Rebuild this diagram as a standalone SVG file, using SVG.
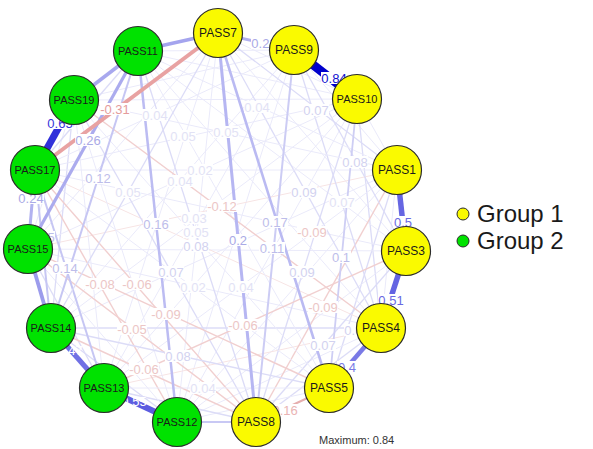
<svg xmlns="http://www.w3.org/2000/svg" width="593" height="449" viewBox="0 0 593 449">
<style>
line{stroke-linecap:butt;fill:none}
.s0{stroke:#EAEAFA;stroke-width:1}
.s1{stroke:#DCDCF7;stroke-width:1.3}
.s2{stroke:#C6C6F3;stroke-width:2}
.r0{stroke:#F7E4E4;stroke-width:1}
.r1{stroke:#F1CFCF;stroke-width:1.4}
.lab rect{fill:#FFFFFF}
.lab text,.wl{font-family:"Liberation Sans",Arial,sans-serif;font-size:13px;text-anchor:middle}
.t0{fill:#E2E2F5}.t1{fill:#D2D2F0}.t2{fill:#BDBDEA}.t3{fill:#AAAAE6}
.tr0{fill:#F2DADA}.tr1{fill:#ECC6C6}.tr3{fill:#E49C9C}
.node circle{stroke:#2B2B2B;stroke-width:1.2}
.g1 circle{fill:#FAFA00}.g2 circle{fill:#00E200}
.node text{font-family:"Liberation Sans",Arial,sans-serif;text-anchor:middle;fill:#1A1A1A}
.n5{font-size:12px}.n6{font-size:11px}
.leg{font-family:"Liberation Sans",Arial,sans-serif;font-size:24px;fill:#1A1A1A}
</style>
<rect width="593" height="449" fill="#FFFFFF"/>
<g id="connectors">
<line class="s0" x1="218" y1="33" x2="357" y2="99"/>
<line class="s0" x1="218" y1="33" x2="406" y2="251"/>
<line class="s0" x1="218" y1="33" x2="177" y2="422"/>
<line class="s0" x1="218" y1="33" x2="104" y2="388"/>
<line class="s0" x1="218" y1="33" x2="28" y2="249"/>
<line class="s0" x1="294" y1="50" x2="397" y2="170"/>
<line class="s0" x1="294" y1="50" x2="177" y2="422"/>
<line class="s0" x1="294" y1="50" x2="104" y2="388"/>
<line class="s0" x1="294" y1="50" x2="51" y2="328"/>
<line class="s0" x1="294" y1="50" x2="74" y2="100"/>
<line class="s0" x1="294" y1="50" x2="138" y2="51"/>
<line class="s0" x1="357" y1="99" x2="397" y2="170"/>
<line class="s1" x1="357" y1="99" x2="381" y2="328"/>
<line class="s0" x1="357" y1="99" x2="74" y2="100"/>
<line class="s0" x1="357" y1="99" x2="138" y2="51"/>
<line class="s0" x1="357" y1="99" x2="104" y2="388"/>
<line class="s0" x1="357" y1="99" x2="177" y2="422"/>
<line class="s0" x1="397" y1="170" x2="381" y2="328"/>
<line class="s1" x1="397" y1="170" x2="329" y2="388"/>
<line class="s0" x1="397" y1="170" x2="177" y2="422"/>
<line class="s0" x1="397" y1="170" x2="51" y2="328"/>
<line class="r0" x1="397" y1="170" x2="28" y2="249"/>
<line class="s0" x1="406" y1="251" x2="177" y2="422"/>
<line class="s0" x1="406" y1="251" x2="28" y2="249"/>
<line class="s0" x1="406" y1="251" x2="35" y2="170"/>
<line class="s0" x1="406" y1="251" x2="138" y2="51"/>
<line class="s1" x1="381" y1="328" x2="256" y2="422"/>
<line class="s0" x1="381" y1="328" x2="177" y2="422"/>
<line class="r0" x1="381" y1="328" x2="104" y2="388"/>
<line class="s1" x1="381" y1="328" x2="51" y2="328"/>
<line class="s0" x1="381" y1="328" x2="28" y2="249"/>
<line class="r0" x1="381" y1="328" x2="35" y2="170"/>
<line class="s0" x1="381" y1="328" x2="138" y2="51"/>
<line class="s0" x1="329" y1="388" x2="177" y2="422"/>
<line class="s0" x1="329" y1="388" x2="138" y2="51"/>
<line class="s1" x1="256" y1="422" x2="104" y2="388"/>
<line class="s1" x1="177" y1="422" x2="51" y2="328"/>
<line class="s0" x1="177" y1="422" x2="28" y2="249"/>
<line class="s0" x1="177" y1="422" x2="74" y2="100"/>
<line class="s1" x1="104" y1="388" x2="28" y2="249"/>
<line class="s0" x1="104" y1="388" x2="74" y2="100"/>
<line class="s1" x1="51" y1="328" x2="74" y2="100"/>
<line class="s0" x1="28" y1="249" x2="74" y2="100"/>
<line class="s1" x1="35" y1="170" x2="138" y2="51"/>
<line class="s1" x1="218" y1="33" x2="381" y2="328"/>
<line class="s1" x1="357" y1="99" x2="256" y2="422"/>
<line class="r1" x1="397" y1="170" x2="256" y2="422"/>
<line class="s1" x1="406" y1="251" x2="256" y2="422"/>
<line class="s1" x1="294" y1="50" x2="406" y2="251"/>
<line class="s1" x1="294" y1="50" x2="381" y2="328"/>
<line class="s0" x1="397" y1="170" x2="138" y2="51"/>
<line class="s1" x1="218" y1="33" x2="397" y2="170"/>
<line class="s0" x1="294" y1="50" x2="35" y2="170"/>
<line class="s0" x1="357" y1="99" x2="35" y2="170"/>
<line class="s0" x1="397" y1="170" x2="74" y2="100"/>
<line class="s0" x1="397" y1="170" x2="35" y2="170"/>
<line class="s0" x1="357" y1="99" x2="28" y2="249"/>
<line class="r1" x1="381" y1="328" x2="74" y2="100"/>
<line class="s0" x1="357" y1="99" x2="51" y2="328"/>
<line class="s0" x1="329" y1="388" x2="74" y2="100"/>
<line class="s1" x1="138" y1="51" x2="256" y2="422"/>
<line class="s1" x1="74" y1="100" x2="256" y2="422"/>
<line class="s0" x1="35" y1="170" x2="329" y2="388"/>
<line class="s0" x1="397" y1="170" x2="104" y2="388"/>
<line class="r1" x1="406" y1="251" x2="104" y2="388"/>
<line class="r1" x1="177" y1="422" x2="35" y2="170"/>
<line class="r1" x1="256" y1="422" x2="35" y2="170"/>
<line class="r1" x1="329" y1="388" x2="28" y2="249"/>
<line class="r1" x1="256" y1="422" x2="28" y2="249"/>
<line class="s1" x1="329" y1="388" x2="51" y2="328"/>
<line class="r1" x1="256" y1="422" x2="51" y2="328"/>
<line class="s0" x1="329" y1="388" x2="104" y2="388"/>
<line class="s2" x1="35" y1="170" x2="104" y2="388"/>
<line class="s2" x1="138" y1="51" x2="51" y2="328"/>
<line class="s1" x1="218" y1="33" x2="51" y2="328"/>
<line class="s2" x1="35" y1="170" x2="51" y2="328"/>
<line style="stroke:#CCCCF4;stroke-width:2" x1="294" y1="50" x2="256" y2="422"/>
<line style="stroke:#CECEF4;stroke-width:1.8" x1="357" y1="99" x2="329" y2="388"/>
<line style="stroke:#C8C8F4;stroke-width:2.2" x1="177" y1="422" x2="256" y2="422"/>
<line style="stroke:#E6AEAE;stroke-width:2" x1="256" y1="422" x2="329" y2="388"/>
<line style="stroke:#BCBCF2;stroke-width:2.5" x1="138" y1="51" x2="177" y2="422"/>
<line style="stroke:#BABAF2;stroke-width:2.6" x1="218" y1="33" x2="329" y2="388"/>
<line style="stroke:#B6B6F2;stroke-width:3" x1="218" y1="33" x2="256" y2="422"/>
<line style="stroke:#B2B2F0;stroke-width:3" x1="35" y1="170" x2="28" y2="249"/>
<line style="stroke:#B0B0F0;stroke-width:3" x1="218" y1="33" x2="294" y2="50"/>
<line style="stroke:#ABABEE;stroke-width:3.2" x1="138" y1="51" x2="28" y2="249"/>
<line style="stroke:#E8A2A2;stroke-width:4" x1="218" y1="33" x2="35" y2="170"/>
<line style="stroke:#A8A8EE;stroke-width:3.5" x1="74" y1="100" x2="138" y2="51"/>
<line style="stroke:#A4A4EE;stroke-width:3.5" x1="218" y1="33" x2="138" y2="51"/>
<line style="stroke:#9C9CEC;stroke-width:3.8" x1="28" y1="249" x2="51" y2="328"/>
<line style="stroke:#7A7AE6;stroke-width:4.5" x1="381" y1="328" x2="329" y2="388"/>
<line style="stroke:#7070E4;stroke-width:5" x1="51" y1="328" x2="104" y2="388"/>
<line style="stroke:#6666E2;stroke-width:5.5" x1="397" y1="170" x2="406" y2="251"/>
<line style="stroke:#6464E2;stroke-width:5.5" x1="406" y1="251" x2="381" y2="328"/>
<line style="stroke:#5C5CE0;stroke-width:6" x1="104" y1="388" x2="177" y2="422"/>
<line style="stroke:#3030DA;stroke-width:7" x1="74" y1="100" x2="35" y2="170"/>
<line style="stroke:#0000CC;stroke-width:9" x1="294" y1="50" x2="357" y2="99"/>
</g>
<g id="edge-labels">
<g class="lab"><rect x="251" y="37" width="26" height="12"/><text class="t3" x="264" y="48">0.23</text></g>
<g class="lab"><rect x="321" y="72" width="26" height="12"/><text x="334" y="83" style="fill:#1010D0">0.84</text></g>
<g class="lab"><rect x="47" y="117" width="26" height="12"/><text x="60" y="128" style="fill:#3535DA">0.65</text></g>
<g class="lab"><rect x="393" y="216" width="19" height="12"/><text x="403" y="227" style="fill:#6A6AE2">0.5</text></g>
<g class="lab"><rect x="378" y="294" width="26" height="12"/><text x="391" y="305" style="fill:#6A6AE2">0.51</text></g>
<g class="lab"><rect x="337" y="361" width="19" height="12"/><text x="347" y="372" style="fill:#7A7AE6">0.4</text></g>
<g class="lab"><rect x="18" y="192" width="26" height="12"/><text class="t3" x="31" y="203">0.24</text></g>
<g class="lab"><rect x="75" y="134" width="26" height="12"/><text class="t3" x="88" y="145">0.26</text></g>
<g class="lab"><rect x="100" y="103" width="30" height="12"/><text class="tr3" x="115" y="114">-0.31</text></g>
<g class="lab"><rect x="29" y="231" width="26" height="12"/><text class="t2" x="42" y="242">0.15</text></g>
<g class="lab"><rect x="143" y="218" width="26" height="12"/><text class="t2" x="156" y="229">0.16</text></g>
<g class="lab"><rect x="229" y="234" width="19" height="12"/><text class="t3" x="238" y="245">0.2</text></g>
<g class="lab"><rect x="262" y="216" width="26" height="12"/><text class="t2" x="275" y="227">0.17</text></g>
<g class="lab"><rect x="259" y="242" width="26" height="12"/><text class="t2" x="272" y="253">0.11</text></g>
<g class="lab"><rect x="297" y="226" width="30" height="12"/><text class="tr1" x="312" y="237">-0.09</text></g>
<g class="lab"><rect x="332" y="251" width="19" height="12"/><text class="t2" x="341" y="262">0.1</text></g>
<g class="lab"><rect x="291" y="186" width="26" height="12"/><text class="t1" x="304" y="197">0.09</text></g>
<g class="lab"><rect x="289" y="266" width="26" height="12"/><text class="t1" x="302" y="277">0.09</text></g>
<g class="lab"><rect x="308" y="301" width="30" height="12"/><text class="tr1" x="323" y="312">-0.09</text></g>
<g class="lab"><rect x="310" y="339" width="26" height="12"/><text class="t1" x="323" y="350">0.07</text></g>
<g class="lab"><rect x="344" y="324" width="26" height="12"/><text class="t1" x="357" y="335">0.06</text></g>
<g class="lab"><rect x="342" y="156" width="26" height="12"/><text class="t1" x="355" y="167">0.08</text></g>
<g class="lab"><rect x="329" y="196" width="26" height="12"/><text class="t0" x="342" y="207">0.07</text></g>
<g class="lab"><rect x="244" y="101" width="26" height="12"/><text class="t0" x="257" y="112">0.04</text></g>
<g class="lab"><rect x="303" y="104" width="26" height="12"/><text class="t1" x="316" y="115">0.07</text></g>
<g class="lab"><rect x="142" y="109" width="26" height="12"/><text class="t0" x="155" y="120">0.04</text></g>
<g class="lab"><rect x="170" y="130" width="26" height="12"/><text class="t0" x="183" y="141">0.05</text></g>
<g class="lab"><rect x="213" y="126" width="26" height="12"/><text class="t0" x="226" y="137">0.05</text></g>
<g class="lab"><rect x="187" y="164" width="26" height="12"/><text class="t0" x="200" y="175">0.02</text></g>
<g class="lab"><rect x="167" y="175" width="26" height="12"/><text class="t0" x="180" y="186">0.04</text></g>
<g class="lab"><rect x="207" y="200" width="30" height="12"/><text class="tr1" x="222" y="211">-0.12</text></g>
<g class="lab"><rect x="181" y="212" width="26" height="12"/><text class="t0" x="194" y="223">0.03</text></g>
<g class="lab"><rect x="183" y="226" width="26" height="12"/><text class="t0" x="196" y="237">0.05</text></g>
<g class="lab"><rect x="183" y="240" width="26" height="12"/><text class="t1" x="196" y="251">0.08</text></g>
<g class="lab"><rect x="158" y="266" width="26" height="12"/><text class="t1" x="171" y="277">0.07</text></g>
<g class="lab"><rect x="180" y="281" width="26" height="12"/><text class="t0" x="193" y="292">0.02</text></g>
<g class="lab"><rect x="228" y="281" width="26" height="12"/><text class="t0" x="241" y="292">0.04</text></g>
<g class="lab"><rect x="228" y="319" width="30" height="12"/><text class="tr1" x="243" y="330">-0.06</text></g>
<g class="lab"><rect x="85" y="278" width="30" height="12"/><text class="tr1" x="100" y="289">-0.08</text></g>
<g class="lab"><rect x="122" y="278" width="30" height="12"/><text class="tr1" x="137" y="289">-0.06</text></g>
<g class="lab"><rect x="151" y="308" width="30" height="12"/><text class="tr1" x="166" y="319">-0.09</text></g>
<g class="lab"><rect x="117" y="323" width="30" height="12"/><text class="tr1" x="132" y="334">-0.05</text></g>
<g class="lab"><rect x="165" y="350" width="26" height="12"/><text class="t1" x="178" y="361">0.08</text></g>
<g class="lab"><rect x="129" y="363" width="30" height="12"/><text class="tr1" x="144" y="374">-0.06</text></g>
<g class="lab"><rect x="190" y="382" width="26" height="12"/><text class="t0" x="203" y="393">0.04</text></g>
<g class="lab"><rect x="52" y="262" width="26" height="12"/><text class="t2" x="65" y="273">0.14</text></g>
<g class="lab"><rect x="85" y="172" width="26" height="12"/><text class="t2" x="98" y="183">0.12</text></g>
<g class="lab"><rect x="115" y="186" width="26" height="12"/><text class="t0" x="128" y="197">0.05</text></g>
<g class="lab"><rect x="268" y="404" width="30" height="12"/><text x="283" y="415" style="fill:#EAB4B4">-0.16</text></g>
<text class="wl" x="134" y="406" style="fill:#FFFFFF">0.55</text>
<text class="wl" x="70" y="355" style="fill:#FFFFFF">0.47</text>
</g>
<g id="PASS7" class="node g1"><circle cx="218" cy="33" r="24.5"/><text class="n5" x="218" y="37">PASS7</text></g>
<g id="PASS9" class="node g1"><circle cx="294" cy="50" r="24.5"/><text class="n5" x="294" y="54">PASS9</text></g>
<g id="PASS10" class="node g1"><circle cx="357" cy="99" r="24.5"/><text class="n6" x="357" y="103">PASS10</text></g>
<g id="PASS1" class="node g1"><circle cx="397" cy="170" r="24.5"/><text class="n5" x="397" y="174">PASS1</text></g>
<g id="PASS3" class="node g1"><circle cx="406" cy="251" r="24.5"/><text class="n5" x="406" y="255">PASS3</text></g>
<g id="PASS4" class="node g1"><circle cx="381" cy="328" r="24.5"/><text class="n5" x="381" y="332">PASS4</text></g>
<g id="PASS5" class="node g1"><circle cx="329" cy="388" r="24.5"/><text class="n5" x="329" y="392">PASS5</text></g>
<g id="PASS8" class="node g1"><circle cx="256" cy="422" r="24.5"/><text class="n5" x="256" y="426">PASS8</text></g>
<g id="PASS12" class="node g2"><circle cx="177" cy="422" r="24.5"/><text class="n6" x="177" y="426">PASS12</text></g>
<g id="PASS13" class="node g2"><circle cx="104" cy="388" r="24.5"/><text class="n6" x="104" y="392">PASS13</text></g>
<g id="PASS14" class="node g2"><circle cx="51" cy="328" r="24.5"/><text class="n6" x="51" y="332">PASS14</text></g>
<g id="PASS15" class="node g2"><circle cx="28" cy="249" r="24.5"/><text class="n6" x="28" y="253">PASS15</text></g>
<g id="PASS17" class="node g2"><circle cx="35" cy="170" r="24.5"/><text class="n6" x="35" y="174">PASS17</text></g>
<g id="PASS19" class="node g2"><circle cx="74" cy="100" r="24.5"/><text class="n6" x="74" y="104">PASS19</text></g>
<g id="PASS11" class="node g2"><circle cx="138" cy="51" r="24.5"/><text class="n6" x="138" y="55">PASS11</text></g>
<g id="legend">
<circle cx="463" cy="214" r="6" fill="#FAFA00" stroke="#2B2B2B" stroke-width="1"/>
<text class="leg" x="477" y="222">Group 1</text>
<circle cx="463" cy="241" r="6" fill="#00E200" stroke="#2B2B2B" stroke-width="1"/>
<text class="leg" x="477" y="249">Group 2</text>
</g>
<text x="319" y="444" style="font-family:'Liberation Sans',Arial,sans-serif;font-size:11px;fill:#333">Maximum: 0.84</text>
</svg>
